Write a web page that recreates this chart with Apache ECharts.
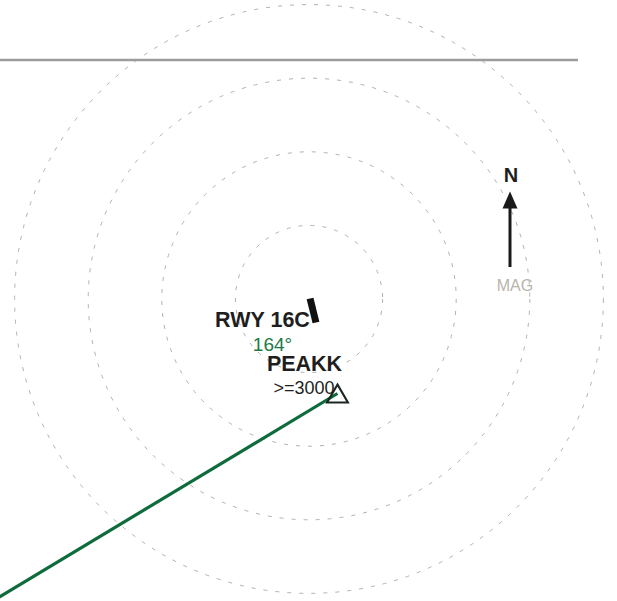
<!DOCTYPE html>
<html>
<head>
<meta charset="utf-8">
<script src="https://cdn.jsdelivr.net/npm/echarts@6/dist/echarts.min.js"></script>
<style>
html,body{margin:0;padding:0;background:#fff;}
#chart{width:617px;height:601px;}
</style>
</head>
<body>
<div id="chart"></div>
<script>
// Range rings (NM-like units) centred on the reference point
const ringCenter = [0, 0];
const ringRadii = [1, 2, 3, 4];
// Approach leg into PEAKK
const legPath = [[0.387, -1.284], [-4.742, -4.372]];
// Runway 16C threshold bar
const runwayEnds = [[0.014, 0.007], [0.095, -0.319]];
// PEAKK fix
const fixPoint = [[0.387, -1.284]];
// Gray boundary line
const boundaryLine = [[-4.30, 3.247], [3.655, 3.247]];
// Magnetic north arrow
const northShaft = [[2.731, 0.435], [2.731, 1.30]];
const northHead = [[2.731, 1.345]];
// Text labels
const labelTexts = ['RWY 16C', '164°', 'PEAKK', '>=3000', 'N', 'MAG'];
const labelPoints = [[-0.632, -0.285], [-0.496, -0.618], [-0.061, -0.885], [-0.068, -1.212], [2.745, 1.685], [2.799, 0.183]];

// Layout (pixel scale)
const W = 617, H = 601, CX = 309, CY = 299, S = 73.6;
const xMin = -CX / S, xMax = (W - CX) / S, yMin = -(H - CY) / S, yMax = CY / S;

const FONT = '"Liberation Sans", Arial, Helvetica, sans-serif';
const labelStyles = [
  {fill: '#1e1e1e', fontSize: 21.5, fontWeight: 'bold'},
  {fill: '#1d7a46', fontSize: 19, fontWeight: 'normal'},
  {fill: '#1e1e1e', fontSize: 21.5, fontWeight: 'bold'},
  {fill: '#1e1e1e', fontSize: 18, fontWeight: 'normal'},
  {fill: '#1e1e1e', fontSize: 20, fontWeight: 'bold'},
  {fill: '#b8b5ad', fontSize: 16, fontWeight: 'normal'}
];

const chart = echarts.init(document.getElementById('chart'), null, {renderer: 'svg', width: W, height: H});
chart.setOption({
  animation: false,
  backgroundColor: '#ffffff',
  grid: {left: 0, right: 0, top: 0, bottom: 0},
  xAxis: {type: 'value', min: xMin, max: xMax, show: false},
  yAxis: {type: 'value', min: yMin, max: yMax, show: false},
  series: [
    {
      type: 'custom',
      silent: true,
      data: ringRadii.map(r => [ringCenter[0], ringCenter[1], r]),
      encode: {x: 0, y: 1},
      renderItem: function (params, api) {
        const c = api.coord([api.value(0), api.value(1)]);
        const r = api.size([api.value(2), 0])[0];
        return {type: 'circle', shape: {cx: c[0], cy: c[1], r: r},
          style: {fill: 'none', stroke: '#b5b1a6', lineWidth: 1, lineDash: [4, 8]}};
      },
      z: 1
    },
    {type: 'line', data: boundaryLine, symbol: 'none', silent: true,
      lineStyle: {color: '#9c9c9c', width: 2.5, opacity: 1}, z: 2},
    {type: 'line', data: legPath, symbol: 'none', silent: true,
      lineStyle: {color: '#0e6b3b', width: 3.2, opacity: 1}, z: 3},
    {type: 'line', data: runwayEnds, symbol: 'none', silent: true,
      lineStyle: {color: '#111111', width: 7, cap: 'butt', opacity: 1}, z: 4},
    {type: 'scatter', data: fixPoint, symbol: 'triangle', symbolSize: [21, 18], silent: true,
      itemStyle: {color: 'rgba(255,255,255,0)', borderColor: '#1c2620', borderWidth: 2, opacity: 1}, z: 5},
    {type: 'line', data: northShaft, symbol: 'none', silent: true,
      lineStyle: {color: '#1a1a1a', width: 3, cap: 'butt', opacity: 1}, z: 4},
    {type: 'scatter', data: northHead, symbol: 'triangle', symbolSize: [15, 17], silent: true,
      itemStyle: {color: '#1a1a1a', opacity: 1}, z: 4},
    {
      type: 'custom',
      silent: true,
      data: labelPoints.map((p, i) => [p[0], p[1], i]),
      encode: {x: 0, y: 1},
      renderItem: function (params, api) {
        const i = api.value(2);
        const c = api.coord([api.value(0), api.value(1)]);
        const st = labelStyles[i];
        return {type: 'text', x: c[0], y: c[1],
          style: {text: labelTexts[i], fill: st.fill, fontSize: st.fontSize, fontWeight: st.fontWeight,
            fontFamily: FONT, align: 'center', verticalAlign: 'middle', lineHeight: st.fontSize}};
      },
      z: 10
    }
  ]
});
</script>
</body>
</html>
